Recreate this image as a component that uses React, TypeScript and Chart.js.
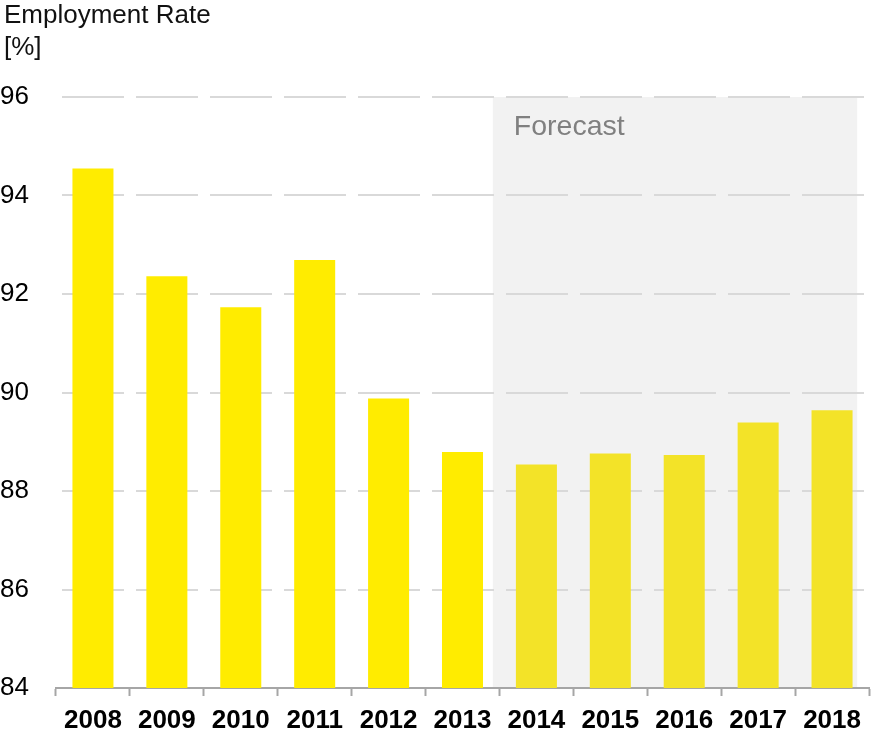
import React, { useEffect, useRef } from "react";
import { Chart, registerables } from "chart.js";

Chart.register(...registerables);

const years = ["2008", "2009", "2010", "2011", "2012", "2013", "2014", "2015", "2016", "2017", "2018"];
const rates = [94.55, 92.36, 91.73, 92.69, 89.88, 88.79, 88.54, 88.76, 88.73, 89.39, 89.64];
const firstForecastYear = "2014";
const yTicks = [84, 86, 88, 90, 92, 94, 96];
const titleLines = ["Employment Rate", "[%]"];
const forecastLabel = "Forecast";

const FONT = "'Liberation Sans', Arial, Helvetica, sans-serif";

export default function App() {
  const ref = useRef<HTMLCanvasElement | null>(null);

  useEffect(() => {
    if (!ref.current) return;
    const fIdx = years.indexOf(firstForecastYear);
    const colors = years.map((_, i) => (i >= fIdx ? "#F3E328" : "#FFEC00"));

    const bgPlugin = {
      id: "forecastBg",
      beforeDraw(chart: any) {
        const { ctx, chartArea, scales } = chart;
        const x = scales.x;
        const y = scales.y;
        const left = x.getPixelForValue(fIdx - 0.59);
        const right = x.getPixelForValue(years.length - 1 + 0.34);
        const top = y.getPixelForValue(yTicks[yTicks.length - 1]);
        ctx.save();
        ctx.fillStyle = "#F2F2F2";
        ctx.fillRect(left, top, right - left, chartArea.bottom - top);
        ctx.fillStyle = "#808080";
        ctx.font = `28.5px ${FONT}`;
        ctx.textAlign = "left";
        ctx.textBaseline = "alphabetic";
        ctx.fillText(forecastLabel, left + 21, 135);
        ctx.fillStyle = "#111111";
        ctx.font = `26px ${FONT}`;
        ctx.fillText(titleLines[0], 4, 23);
        ctx.fillText(titleLines[1], 4, 55);
        ctx.restore();
      },
    };

    const chart = new Chart(ref.current, {
      type: "bar",
      data: {
        labels: years,
        datasets: [
          {
            data: rates,
            backgroundColor: colors,
            borderWidth: 0,
            barPercentage: 0.555,
            categoryPercentage: 1,
          },
        ],
      },
      plugins: [bgPlugin],
      options: {
        animation: false,
        responsive: false,
        devicePixelRatio: 1,
        layout: { padding: { left: 0, right: 2, top: 97, bottom: 0 } },
        plugins: { legend: { display: false }, tooltip: { enabled: false }, title: { display: false } },
        scales: {
          x: {
            offset: true,
            grid: {
              display: true,
              drawOnChartArea: false,
              drawTicks: true,
              tickLength: 8,
              tickColor: "#A6A6A6",
              tickWidth: 2,
              offset: true,
            },
            border: { display: true, color: "#A6A6A6", width: 2 },
            ticks: {
              color: "#000000",
              font: { family: FONT, size: 26, weight: "bold" },
              padding: 9,
              maxRotation: 0,
              autoSkip: false,
            },
            afterFit(scale: any) {
              scale.height = 48;
            },
          },
          y: {
            min: 84,
            max: 96,
            afterBuildTicks(scale: any) {
              scale.ticks = yTicks.map((v) => ({ value: v }));
            },
            grid: {
              color: "#D9D9D9",
              lineWidth: 2,
              drawTicks: false,
            },
            border: { display: false, dash: [62, 12], dashOffset: 68 },
            ticks: {
              color: "#000000",
              font: { family: FONT, size: 26 },
              crossAlign: "far",
              padding: 0,
            },
            afterFit(scale: any) {
              scale.width = 56;
            },
          },
        },
      },
    } as any);

    return () => chart.destroy();
  }, []);

  return (
    <div style={{ position: "fixed", left: 0, top: 0, width: 871, height: 736, background: "#fff" }}>
      <canvas ref={ref} width={871} height={736} style={{ width: 871, height: 736, display: "block" }} />
    </div>
  );
}
